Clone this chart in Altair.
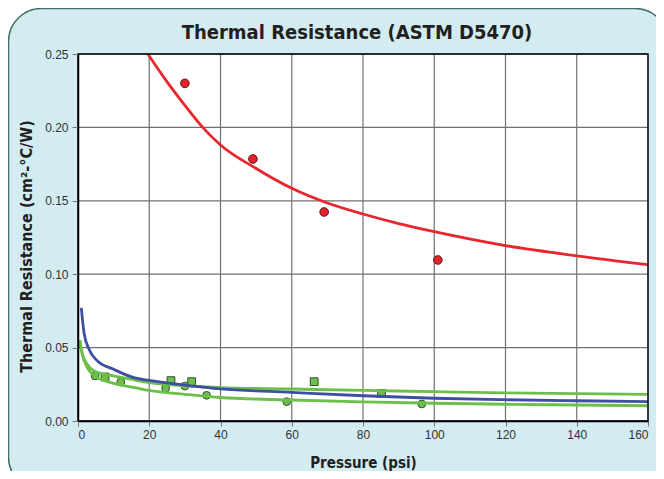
import altair as alt
import pandas as pd

# ---- data ----
x_ticks = [0, 20, 40, 60, 80, 100, 120, 140, 160]
y_ticks = [0.00, 0.05, 0.10, 0.15, 0.20, 0.25]

red_pts_x = [30.0, 49.1, 69.1, 101.0]
red_pts_y = [0.230, 0.1785, 0.1424, 0.1097]

red_fit_x = [19.6, 25, 30, 35, 40, 50, 60, 70, 80, 90, 100, 120, 140, 160]
red_fit_y = [0.250, 0.231, 0.215, 0.200, 0.188, 0.172, 0.1585, 0.1485, 0.141, 0.1345, 0.129, 0.1195, 0.1125, 0.1065]

blue_fit_x = [0.93, 1.7, 3.1, 5.4, 10, 15.7, 20, 30, 40, 60, 80, 100, 120, 140, 160]
blue_fit_y = [0.077, 0.060, 0.0488, 0.041, 0.0352, 0.0295, 0.0276, 0.0245, 0.0219, 0.0195, 0.0172, 0.0155, 0.0145, 0.0138, 0.0132]

green_fit_x = [0.5, 1.2, 2.6, 4.5, 10, 16, 20, 30, 40, 60, 80, 100, 120, 140, 160]
green_hi_y = [0.055, 0.046, 0.0386, 0.034, 0.0307, 0.0279, 0.0262, 0.0240, 0.0228, 0.0218, 0.0208, 0.0200, 0.0192, 0.0187, 0.0182]
green_lo_y = [0.055, 0.0454, 0.0363, 0.031, 0.0256, 0.0227, 0.0208, 0.0182, 0.0160, 0.0143, 0.0130, 0.0121, 0.0114, 0.0109, 0.0104]

green_circ_x = [4.8, 12.0, 24.6, 30.0, 36.1, 58.6, 96.5]
green_circ_y = [0.0307, 0.0266, 0.0223, 0.0238, 0.0175, 0.0132, 0.0116]
green_sq_x = [7.6, 26.1, 31.9, 66.3, 85.2]
green_sq_y = [0.0300, 0.0275, 0.0268, 0.0268, 0.0188]

title_text = "Thermal Resistance (ASTM D5470)"

W, H = 570, 367
NARROW = "Liberation Sans Narrow, Arial Narrow, DejaVu Sans Condensed, sans-serif"
REG = "Liberation Sans, Arial, sans-serif"

xs = alt.Scale(domain=[0, 160], nice=False, zero=False)
ys = alt.Scale(domain=[0, 0.25], nice=False)

xax = alt.Axis(values=x_ticks, format="d", grid=False, domainColor="black", domainWidth=1.5,
               tickColor="#777", tickSize=5, labelFont=REG, labelFontSize=12, labelColor="#333",
               labelPadding=3, title="Pressure (psi)", titleFont=NARROW, titleFontSize=15,
               titleFontWeight="bold", titleColor="#231f20", titleBaseline="alphabetic",
               titleY=46, zindex=1)
yax = alt.Axis(values=y_ticks, format=".2f", grid=False, domainColor="black", domainWidth=1.5,
               tickColor="#777", tickSize=6, labelFont=REG, labelFontSize=12, labelColor="#333",
               labelPadding=4, title="Thermal Resistance (cm²-°C/W)", titleFont=NARROW,
               titleFontSize=16, titleFontWeight="bold", titleColor="#231f20",
               titleX=-44, titleY=192, zindex=1)

one = alt.Data(values=[{}])

deco = alt.Chart(one).mark_rect(fill="#d2ecf2", stroke="#3f7062", strokeWidth=1.5,
                                cornerRadius=33).encode(
    x=alt.value(-69.5), x2=alt.value(590), y=alt.value(-45.5), y2=alt.value(436))
plotbg = alt.Chart(one).mark_rect(fill="white").encode(
    x=alt.value(0), x2=alt.value(W), y=alt.value(0), y2=alt.value(H))

vgrid = alt.Chart(pd.DataFrame({"x": x_ticks})).mark_rule(color="#707070", strokeWidth=1.2).encode(
    x=alt.X("x:Q", scale=xs, axis=xax))
hgrid = alt.Chart(pd.DataFrame({"y": y_ticks})).mark_rule(color="#707070", strokeWidth=1.2).encode(
    y=alt.Y("y:Q", scale=ys, axis=yax))

def pts(xv, yv, shape, fill, stroke, size):
    return alt.Chart(pd.DataFrame({"x": xv, "y": yv})).mark_point(
        shape=shape, filled=True, fill=fill, stroke=stroke, strokeWidth=1, size=size, opacity=1).encode(
        x=alt.X("x:Q", scale=xs), y=alt.Y("y:Q", scale=ys))

def line(xv, yv, color):
    return alt.Chart(pd.DataFrame({"x": xv, "y": yv})).mark_line(
        color=color, strokeWidth=2.8, interpolate="monotone", clip=True).encode(
        x=alt.X("x:Q", scale=xs), y=alt.Y("y:Q", scale=ys))

frame = alt.Chart(one).mark_rect(fill=None, stroke="black", strokeWidth=1.3).encode(
    x=alt.value(0), x2=alt.value(W), y=alt.value(0), y2=alt.value(H))

title = alt.Chart(one).mark_text(font=NARROW, fontSize=20, fontWeight="bold", color="#231f20",
                                 align="center", baseline="alphabetic").encode(
    x=alt.value(W / 2 - 6), y=alt.value(-15), text=alt.value(title_text))

chart = alt.layer(
    deco, plotbg, vgrid, hgrid,
    pts(green_circ_x, green_circ_y, "circle", "#6cbf4a", "#2f4f2a", 60),
    pts(green_sq_x, green_sq_y, "square", "#6cbf4a", "#2f4f2a", 60),
    pts(red_pts_x, red_pts_y, "circle", "#e4202a", "#5a1a1a", 75),
    line(green_fit_x, green_hi_y, "#6cc04a"),
    line(green_fit_x, green_lo_y, "#6cc04a"),
    line(blue_fit_x, blue_fit_y, "#3e4fa3"),
    line(red_fit_x, red_fit_y, "#e8262d"),
    frame, title,
).properties(
    width=W, height=H,
    autosize=alt.AutoSizeParams(type="none"),
    padding={"left": 70, "top": 46, "right": 8, "bottom": 50},
    background="white",
).configure_view(stroke=None)

chart.save("out.html", embed_options={"renderer": "svg", "actions": False})
